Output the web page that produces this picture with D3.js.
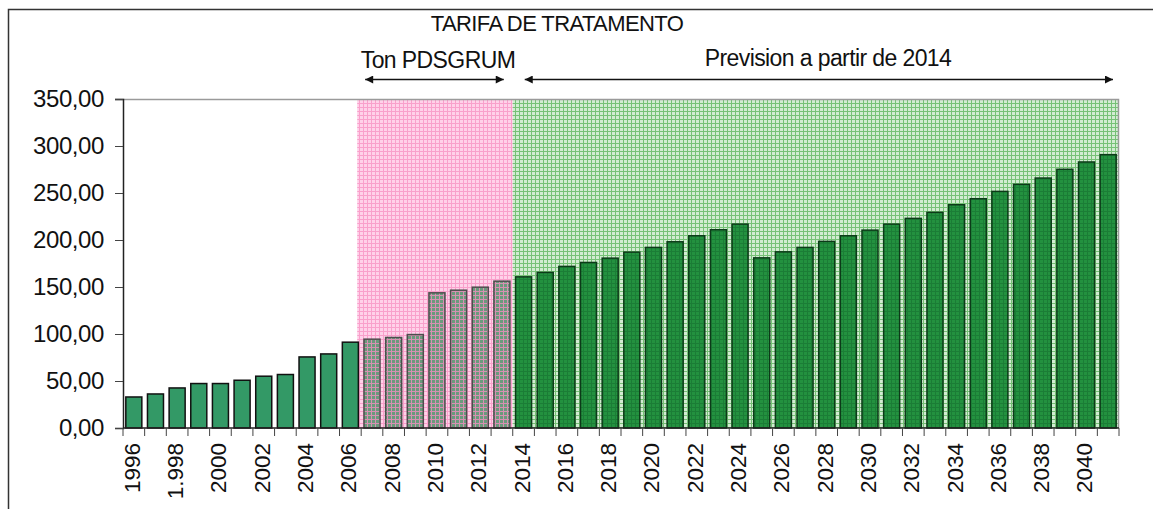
<!DOCTYPE html>
<html>
<head>
<meta charset="utf-8">
<script src="https://cdn.jsdelivr.net/npm/d3@7"></script>
<style>
  body { margin: 0; background: #fff; }
  svg { font-family: "Liberation Sans", Arial, sans-serif; }
</style>
</head>
<body>
<svg id="chart"></svg>
<script>
// data
var years = ["1996","1997","1998","1999","2000","2001","2002","2003","2004","2005",
  "2006","2007","2008","2009","2010","2011","2012","2013","2014","2015",
  "2016","2017","2018","2019","2020","2021","2022","2023","2024","2025",
  "2026","2027","2028","2029","2030","2031","2032","2033","2034","2035",
  "2036","2037","2038","2039","2040","2041"]
var tarifa = [33.0, 36.2, 42.6, 47.3, 47.3, 50.8, 55.1, 56.9, 75.6, 78.8,
  91.3, 94.5, 96.3, 99.4, 143.8, 146.6, 149.8, 156.2, 160.8, 165.5,
  171.9, 176.1, 180.7, 187.1, 192.1, 198.1, 204.5, 210.9, 216.9, 181.0,
  187.4, 192.1, 198.5, 204.5, 210.5, 216.9, 223.0, 229.4, 237.5, 243.9,
  251.7, 259.2, 265.9, 275.2, 283.0, 290.8]
var xLabels = ["1996","1.998","2000","2002","2004","2006","2008","2010","2012","2014",
  "2016","2018","2020","2022","2024","2026","2028","2030","2032","2034",
  "2036","2038","2040"]
var yTicks = [0, 50, 100, 150, 200, 250, 300, 350]
var pdsYears = ["2007", "2013"]
var prevYears = ["2014", "2041"]

var width = 1153, height = 509
var margin = {top: 99, right: 34, bottom: 81, left: 123}
var _width = width - margin.left - margin.right,
    _height = height - margin.top - margin.bottom

var svg = d3.select("#chart").attr("width", width).attr("height", height)

// patterns
var defs = svg.append("defs")
function gridPattern(id, bg, line) {
  var p = defs.append("pattern").attr("id", id)
    .attr("width", 4).attr("height", 4).attr("patternUnits", "userSpaceOnUse")
  p.append("rect").attr("width", 4).attr("height", 4).attr("fill", bg)
  p.append("rect").attr("width", 4).attr("height", 1).attr("fill", line)
  p.append("rect").attr("width", 1).attr("height", 4).attr("fill", line)
}
gridPattern("pinkGrid", "#ffd1e9", "#f9a0cb")
gridPattern("greenGrid", "#d2ecd2", "#76c176")
gridPattern("pinkBar", "#6a9a7c", "#d690b2")
gridPattern("greenBar", "#23913f", "#1b7d36")

// outer frame
svg.append("path")
  .attr("d", "M8.5," + height + "V9.5H" + width)
  .attr("fill", "none").attr("stroke", "#333").attr("stroke-width", 1.5)

var g = svg.append("g").attr("transform", "translate(" + margin.left + "," + margin.top + ")")

var x = d3.scaleBand().domain(years).range([0, _width]).paddingInner(0.26).paddingOuter(0.13)
var y = d3.scaleLinear().domain([0, 350]).range([_height, 0])
var step = x.step()
function bandStart(yr) { return x(yr) - x.paddingInner() * step / 2 }

// shaded periods
g.append("rect")
  .attr("x", bandStart(pdsYears[0]) - 4)
  .attr("y", 1)
  .attr("width", bandStart(prevYears[0]) - bandStart(pdsYears[0]) + 4)
  .attr("height", _height - 1)
  .attr("fill", "url(#pinkGrid)")
g.append("rect")
  .attr("x", bandStart(prevYears[0]))
  .attr("y", 1)
  .attr("width", _width - bandStart(prevYears[0]))
  .attr("height", _height - 1)
  .attr("fill", "url(#greenGrid)")

// plot border (top / right)
g.append("path")
  .attr("d", "M-8,0.5H" + (_width - 0.5) + "V" + _height)
  .attr("fill", "none").attr("stroke", "#9a9a9a").attr("stroke-width", 1.5)

// bars
function barFill(d, i) {
  if (+years[i] >= +prevYears[0]) return "url(#greenBar)"
  if (+years[i] >= +pdsYears[0]) return "url(#pinkBar)"
  return "#339966"
}
function barStroke(d, i) {
  if (+years[i] >= +prevYears[0]) return "#0c3a18"
  if (+years[i] >= +pdsYears[0]) return "#4d4d4d"
  return "#111"
}
g.selectAll(".bar")
  .data(tarifa)
  .enter()
  .append("rect")
    .attr("class", "bar")
    .attr("x", function(d, i){ return x(years[i]) })
    .attr("y", function(d){ return y(d) })
    .attr("width", x.bandwidth())
    .attr("height", function(d){ return _height - y(d) })
    .attr("fill", barFill)
    .attr("stroke", barStroke)
    .attr("stroke-width", 1.5)

// y axis
var yAxis = g.append("g")
  .call(d3.axisLeft(y).tickValues(yTicks).tickSize(8).tickPadding(11)
    .tickFormat(function(d){ return d3.format(".2f")(d).replace(".", ",") }))
yAxis.select(".domain").attr("stroke", "#222").attr("stroke-width", 1.5)
yAxis.selectAll(".tick line").attr("stroke", "#444")
yAxis.selectAll("text")
  .attr("font-size", "24px").attr("font-family", "Liberation Sans, Arial, sans-serif")
  .attr("fill", "#111").attr("letter-spacing", "-0.4px")

// x axis: ticks on band boundaries
var xAxisG = g.append("g").attr("transform", "translate(0," + _height + ")")
xAxisG.append("line").attr("x1", 0).attr("x2", _width).attr("stroke", "#222").attr("stroke-width", 1.5)
xAxisG.selectAll(".xtick")
  .data(years.concat(["end"]))
  .enter()
  .append("line")
    .attr("class", "xtick")
    .attr("x1", function(d, i){ return i * step })
    .attr("x2", function(d, i){ return i * step })
    .attr("y1", 0).attr("y2", 8)
    .attr("stroke", "#444")
xAxisG.selectAll(".xlab")
  .data(xLabels)
  .enter()
  .append("text")
    .attr("class", "xlab")
    .attr("transform", function(d, i){
      return "translate(" + (x(years[i * 2]) + x.bandwidth() / 2) + ",15) rotate(-90)" })
    .attr("text-anchor", "end")
    .attr("dominant-baseline", "middle")
    .attr("font-size", "22.5px")
    .attr("fill", "#111")
    .text(function(d){ return d })

// titles
function setText(pos_x, pos_y, font_size, txt) {
  svg.append("text")
    .attr("x", pos_x).attr("y", pos_y)
    .attr("text-anchor", "middle")
    .attr("font-size", font_size)
    .attr("letter-spacing", "-0.6px")
    .attr("fill", "#111")
    .text(txt)
}
setText(557, 31, "22px", "TARIFA DE TRATAMENTO")
setText(438, 68, "23px", "Ton PDSGRUM")
setText(828, 66, "23px", "Prevision a partir de 2014")

// arrows
defs.append("marker").attr("id", "arrow")
  .attr("viewBox", "0 0 10 10").attr("refX", 10).attr("refY", 5)
  .attr("markerWidth", 10).attr("markerHeight", 8).attr("markerUnits", "userSpaceOnUse")
  .attr("orient", "auto-start-reverse")
  .append("path").attr("d", "M0,0L10,5L0,10Z").attr("fill", "#111")
function arrow(x1, x2, yy) {
  svg.append("line")
    .attr("x1", x1).attr("x2", x2).attr("y1", yy).attr("y2", yy)
    .attr("stroke", "#111").attr("stroke-width", 1.5)
    .attr("marker-start", "url(#arrow)").attr("marker-end", "url(#arrow)")
}
arrow(margin.left + bandStart(pdsYears[0]) + 4, margin.left + bandStart(prevYears[0]) - 9, 79.5)
arrow(margin.left + bandStart(prevYears[0]) + 12, margin.left + _width - 6, 79.5)
</script>
</body>
</html>
